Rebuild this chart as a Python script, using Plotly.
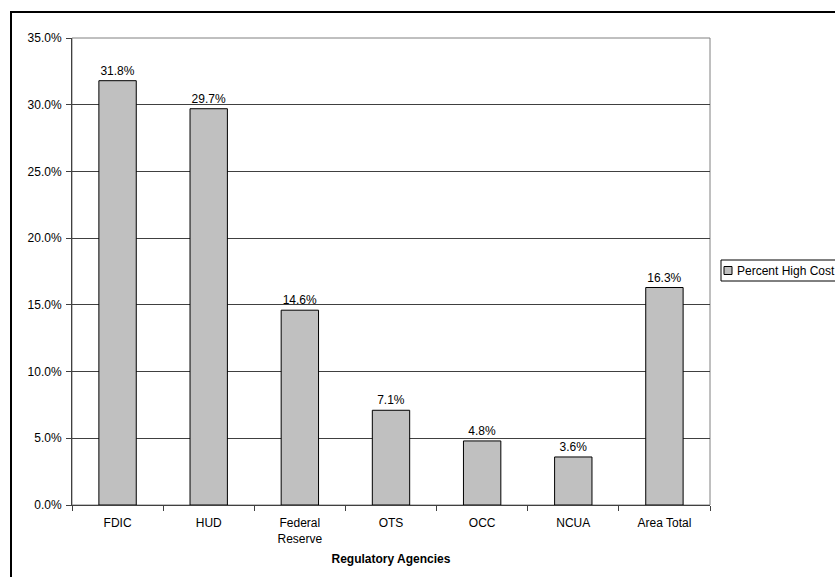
import plotly.graph_objects as go

categories = ["FDIC", "HUD", "Federal<br>Reserve", "OTS", "OCC", "NCUA", "Area Total"]
values = [0.318, 0.297, 0.146, 0.071, 0.048, 0.036, 0.163]
tick_vals = [0, 0.05, 0.10, 0.15, 0.20, 0.25, 0.30, 0.35]
series_name = "Percent High Cost"
x_title = "Regulatory Agencies"

W, H = 835, 577
L, R, T, B = 72, 710, 38, 505
FONT = "Arial, Liberation Sans, sans-serif"

fig = go.Figure()
fig.add_trace(go.Bar(
    x=categories, y=values, name=series_name,
    marker=dict(color="#C0C0C0", line=dict(color="#000000", width=1)),
    texttemplate="%{y:.1%}", textposition="outside", cliponaxis=False,
    textfont=dict(family=FONT, size=12, color="#000000"),
    showlegend=False,
))

pw, ph = R - L, B - T
def px(x):
    return (x - L) / pw
def py(y):
    return (B - y) / ph

shapes = [
    # outer chart border
    dict(type="rect", xref="paper", yref="paper", x0=px(11), x1=px(900), y0=py(12), y1=py(640),
         line=dict(color="#000000", width=2), layer="below"),
    # plot area border (top/right)
    dict(type="rect", xref="paper", yref="paper", x0=0, x1=1, y0=0, y1=1,
         line=dict(color="#808080", width=1), layer="below"),
    # legend box
    dict(type="rect", xref="paper", yref="paper", x0=px(721), x1=px(900), y0=py(260), y1=py(281),
         line=dict(color="#000000", width=1), fillcolor="#FFFFFF"),
    # legend key
    dict(type="rect", xref="paper", yref="paper", x0=px(724), x1=px(732), y0=py(266.5), y1=py(274.5),
         line=dict(color="#000000", width=1), fillcolor="#C0C0C0"),
]

fig.update_layout(
    width=W, height=H,
    margin=dict(l=L, r=W - R, t=T, b=H - B, autoexpand=False),
    paper_bgcolor="#FFFFFF", plot_bgcolor="#FFFFFF",
    font=dict(family=FONT, size=12, color="#000000"),
    bargap=0.59,
    shapes=shapes,
    annotations=[dict(xref="paper", yref="paper", x=px(735), y=py(270.5), text=series_name,
                      showarrow=False, xanchor="left", yanchor="middle",
                      font=dict(family=FONT, size=12, color="#000000"))],
    xaxis=dict(
        showline=True, linecolor="#404040", linewidth=1,
        ticks="outside", ticklen=5, tickcolor="#404040", tickson="boundaries",
        tickfont=dict(size=12), showgrid=False, ticklabelstandoff=7,
        title=dict(text="<b>" + x_title + "</b>", font=dict(size=12), standoff=9),
    ),
    yaxis=dict(
        range=[0, 0.35], tickvals=tick_vals, tickformat=".1%",
        showline=True, linecolor="#404040", linewidth=1,
        ticks="outside", ticklen=5, tickcolor="#404040", ticklabelstandoff=2,
        showgrid=True, gridcolor="#404040", gridwidth=1, zeroline=False,
        tickfont=dict(size=12),
    ),
)

fig.write_html(
    "out.html",
    config={"displayModeBar": False},
    post_script="document.body.style.margin='0';document.body.style.overflow='hidden';",
)
